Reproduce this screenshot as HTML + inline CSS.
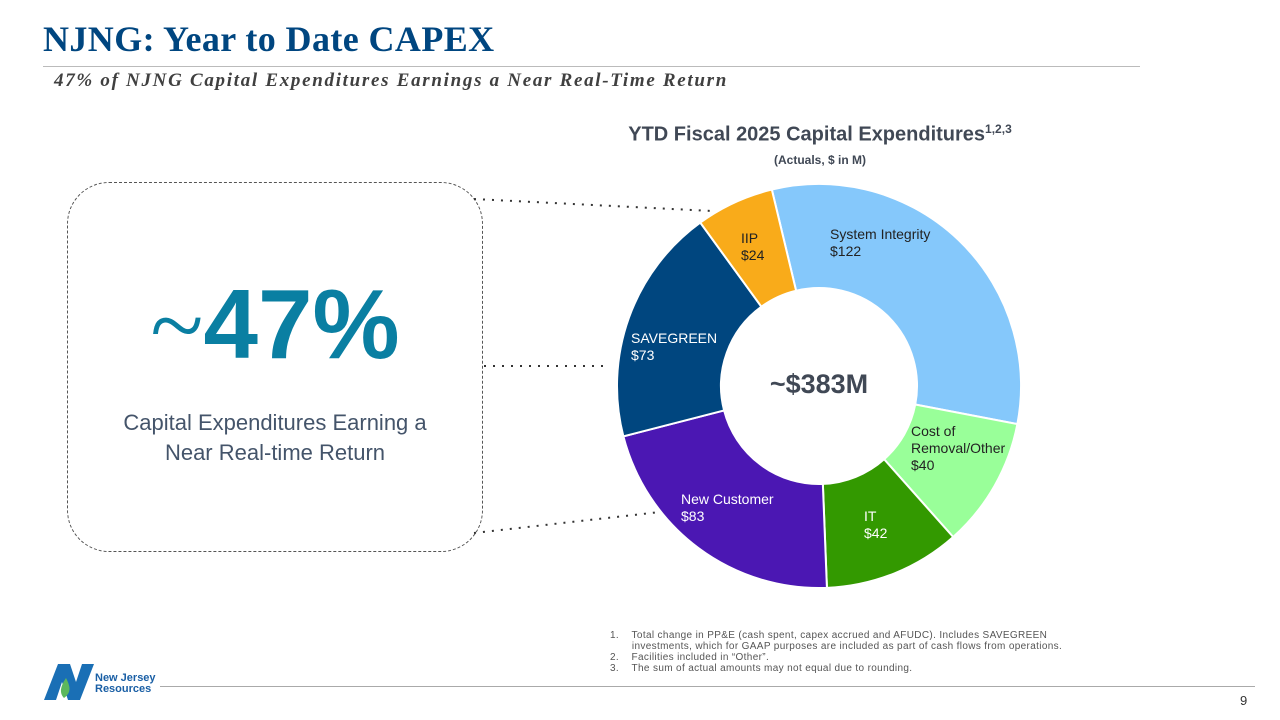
<!DOCTYPE html>
<html><head><meta charset="utf-8"><style>
body{margin:0;width:1280px;height:720px;position:relative;background:#fff;font-family:"Liberation Sans",sans-serif;overflow:hidden}
.a{position:absolute}
</style></head><body>
<div class="a" style="left:43px;top:18px;font-family:'Liberation Serif',serif;font-weight:bold;font-size:36px;letter-spacing:0.4px;color:#004680">NJNG: Year to Date CAPEX</div>
<div class="a" style="left:43px;top:66px;width:1097px;height:1px;background:#bbb"></div>
<div class="a" style="left:54px;top:70px;font-family:'Liberation Serif',serif;font-weight:bold;font-style:italic;font-size:19px;letter-spacing:1.7px;color:#404040">47% of NJNG Capital Expenditures Earnings a Near Real-Time Return</div>
<div class="a" style="left:560px;width:520px;text-align:center;top:122px;font-weight:bold;font-size:20px;color:#404855">YTD Fiscal 2025 Capital Expenditures<sup style="font-size:12px">1,2,3</sup></div>
<div class="a" style="left:560px;width:520px;text-align:center;top:153px;font-weight:bold;font-size:12px;color:#404855">(Actuals, $ in M)</div>
<div class="a" style="left:67px;top:182px;width:414px;height:368px;border:1px dashed #555;border-radius:42px"></div>
<div class="a" style="left:67px;width:416px;text-align:center;top:268px;font-weight:bold;font-size:98px;color:#0a7fa2"><span style="font-weight:normal;font-family:'Liberation Serif',serif">~</span>47%</div>
<div class="a" style="left:67px;width:416px;text-align:center;top:408px;font-size:22px;line-height:30px;color:#44546a">Capital Expenditures Earning a<br>Near Real-time Return</div>
<svg class="a" style="left:0;top:0" width="1280" height="720" id="chart">
<line x1="474" y1="199" x2="712" y2="211" stroke="#333" stroke-width="2" stroke-dasharray="2,7"/>
<line x1="484" y1="366" x2="608" y2="366" stroke="#333" stroke-width="2" stroke-dasharray="2,7"/>
<line x1="474" y1="533" x2="660" y2="512" stroke="#333" stroke-width="2" stroke-dasharray="2,7"/>
<g id="slices"></g>
<text x="819" y="393" text-anchor="middle" font-weight="bold" font-size="27" fill="#404855">~$383M</text>
</svg>
<div class="a" style="left:610px;top:630px;font-size:10px;letter-spacing:0.35px;line-height:11px;color:#555;width:500px">
<div>1.&nbsp;&nbsp;&nbsp;&nbsp;Total change in PP&amp;E (cash spent, capex accrued and AFUDC). Includes SAVEGREEN<br>&nbsp;&nbsp;&nbsp;&nbsp;&nbsp;&nbsp;&nbsp;investments, which for GAAP purposes are included as part of cash flows from operations.</div>
<div>2.&nbsp;&nbsp;&nbsp;&nbsp;Facilities included in “Other”.</div>
<div>3.&nbsp;&nbsp;&nbsp;&nbsp;The sum of actual amounts may not equal due to rounding.</div></div>
<svg class="a" style="left:44px;top:664px" width="50" height="36"><polygon points="0,36 14,0 26,0 32,18 38,0 50,0 36,36 24,36 18,18 12,36" fill="#1a6fb5"/><path d="M20,34 C14,28 18,20 22,14 C26,22 28,28 20,34Z" fill="#5cb85c"/></svg>
<div class="a" style="left:95px;top:673px;font-weight:bold;font-size:11px;line-height:11px;color:#1a5fa5">New Jersey<br>Resources</div>
<div class="a" style="left:160px;top:686px;width:1095px;height:1px;background:#aaa"></div>
<div class="a" style="left:1240px;top:693px;font-size:13px;color:#333">9</div>
<script>
const categories=["System Integrity","Cost of Removal/Other","IT","New Customer","SAVEGREEN","IIP"];
const values=[122,40,42,83,73,24];
const labels=["$122","$40","$42","$83","$73","$24"];
const colors=["#85c8fb","#99ff99","#339900","#4b17b3","#00467f","#f9ab1a"];
const cx=819,cy=386,R=202,r=98,start=-13.5;
const g=document.getElementById('slices');
const total=values.reduce((a,b)=>a+b,0);
function pt(a,rad){const t=a*Math.PI/180;return [cx+rad*Math.sin(t),cy-rad*Math.cos(t)];}
let a=start;
const labelPos=[[830,239],[911,436],[864,521],[681,504],[631,343],[741,243]];
values.forEach((v,i)=>{
 const sw=v/total*360,b=a+sw,l=sw>180?1:0;
 const p1=pt(a,R),p2=pt(b,R),p3=pt(b,r),p4=pt(a,r);
 const p=document.createElementNS('http://www.w3.org/2000/svg','path');
 p.setAttribute('d',`M${p1}A${R},${R} 0 ${l} 1 ${p2}L${p3}A${r},${r} 0 ${l} 0 ${p4}Z`);
 p.setAttribute('fill',colors[i]);p.setAttribute('stroke','#fff');p.setAttribute('stroke-width','2');
 
 
 g.appendChild(p);
 const col=(i==2||i==3||i==4)?'#fff':'#222';
 const t=document.createElementNS('http://www.w3.org/2000/svg','text');
 t.setAttribute('font-size','14');t.setAttribute('fill',col);
 
 
 const lines=(i==1?["Cost of","Removal/Other"]:[categories[i]]).concat([labels[i]]);
 lines.forEach((s,k)=>{const ts=document.createElementNS('http://www.w3.org/2000/svg','tspan');ts.setAttribute('x',labelPos[i][0]);ts.setAttribute('y',labelPos[i][1]+k*17);ts.textContent=s;t.appendChild(ts);});
 g.appendChild(t);
 a=b;
});
</script>
</body></html>
